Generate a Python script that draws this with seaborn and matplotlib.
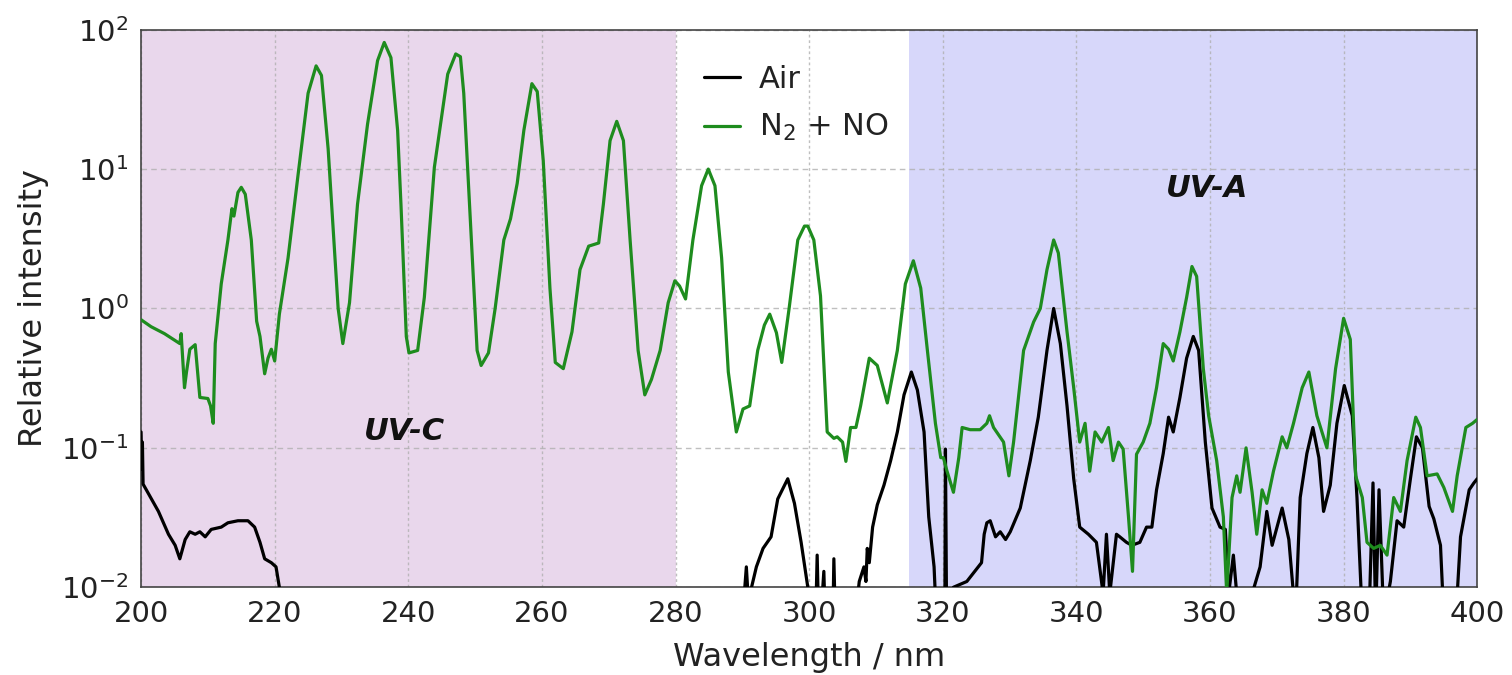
import numpy as np
import pandas as pd
import matplotlib
matplotlib.use("Agg")
import matplotlib.pyplot as plt
import seaborn as sns

# Emission spectra (wavelength in nm, relative intensity)
mix_nm = [
    200.0, 201.5, 203.5, 205.8, 206.0, 206.5, 206.8, 207.3, 208.1, 208.8, 210.0, 210.4,
    210.8, 211.1, 212.0, 213.0, 213.6, 213.9, 214.5, 215.0, 215.6, 216.5, 217.3, 217.8,
    218.5, 219.0, 219.5, 220.0, 220.7, 222.0, 223.5, 225.0, 226.2, 227.0, 228.0, 229.5,
    230.2, 231.2, 232.4, 233.9, 235.4, 236.4, 237.4, 238.4, 238.9, 239.7, 240.1, 241.4,
    242.4, 243.9, 245.9, 247.1, 247.8, 248.3, 249.3, 250.3, 250.9, 252.0, 253.0, 254.3,
    255.3, 256.3, 257.3, 258.5, 259.3, 260.2, 261.2, 262.0, 263.2, 264.5, 265.7, 267.0,
    268.5, 269.2, 270.2, 271.2, 272.2, 273.2, 274.4, 275.4, 276.4, 277.7, 278.9, 279.9,
    280.6, 281.5, 282.6, 283.9, 284.9, 285.9, 286.9, 287.9, 289.1, 290.1, 291.1, 292.3,
    293.3, 294.1, 295.1, 295.9, 297.0, 298.3, 299.3, 299.8, 300.7, 301.7, 302.7, 303.7,
    304.2, 305.0, 305.5, 306.2, 307.0, 307.7, 309.0, 310.2, 311.7, 313.2, 314.4, 315.6,
    316.7, 317.7, 318.9, 319.7, 320.1, 320.6, 321.6, 322.4, 322.9, 324.1, 325.6, 326.6,
    327.0, 327.6, 329.1, 329.9, 330.6, 332.1, 333.6, 334.6, 335.6, 336.6, 337.3, 338.6,
    339.6, 340.5, 341.3, 342.0, 342.8, 343.8, 344.8, 345.5, 346.3, 347.0, 347.8, 348.4,
    349.0, 350.0, 351.0, 352.0, 353.0, 353.8, 354.5, 355.5, 356.5, 357.3, 358.0, 359.0,
    359.8, 361.0, 362.0, 362.5, 363.3, 364.0, 364.5, 365.4, 366.3, 367.0, 367.8, 368.5,
    369.5, 370.8, 371.5, 372.5, 373.8, 374.8, 376.0, 377.5, 378.8, 380.0, 381.0, 381.8,
    382.8, 383.5, 384.5, 385.5, 386.5, 387.5, 388.5, 389.5, 390.8, 391.5, 392.5, 394.0,
    395.0, 396.3, 397.0, 398.3, 399.3, 400.0,
]
mix_val = [
    0.83, 0.74, 0.66, 0.56, 0.66, 0.27, 0.35, 0.51, 0.55, 0.23, 0.226, 0.20,
    0.15, 0.56, 1.5, 3.1, 5.2, 4.6, 6.8, 7.4, 6.6, 3.1, 0.81, 0.63,
    0.34, 0.44, 0.51, 0.42, 0.91, 2.3, 9.1, 35, 55, 47, 14, 1.0,
    0.56, 1.1, 5.6, 21, 60, 81, 63, 19, 5.6, 0.63, 0.48, 0.50,
    1.2, 10.3, 48, 67, 64, 35, 4.2, 0.5, 0.39, 0.48, 1.0, 3.1,
    4.4, 7.9, 19, 41, 36, 11.5, 1.4, 0.41, 0.37, 0.68, 1.9, 2.8,
    2.95, 5.6, 16, 22, 16, 3.1, 0.5, 0.24, 0.31, 0.5, 1.1, 1.58,
    1.45, 1.17, 3.1, 7.6, 10, 7.6, 2.3, 0.35, 0.13, 0.19, 0.20, 0.5,
    0.76, 0.91, 0.67, 0.41, 1.0, 3.1, 3.9, 3.9, 3.1, 1.23, 0.13, 0.117,
    0.12, 0.11, 0.08, 0.14, 0.14, 0.20, 0.44, 0.39, 0.21, 0.5, 1.5, 2.2,
    1.4, 0.5, 0.15, 0.085, 0.085, 0.069, 0.048, 0.085, 0.14, 0.135, 0.135, 0.15,
    0.17, 0.14, 0.11, 0.063, 0.11, 0.5, 0.8, 1.0, 1.9, 3.1, 2.5, 0.68,
    0.27, 0.11, 0.15, 0.068, 0.13, 0.11, 0.14, 0.081, 0.11, 0.098, 0.032, 0.013,
    0.09, 0.11, 0.15, 0.27, 0.56, 0.51, 0.42, 0.68, 1.2, 2.0, 1.7, 0.37,
    0.17, 0.081, 0.032, 0.009, 0.044, 0.063, 0.048, 0.10, 0.048, 0.024, 0.05, 0.04,
    0.068, 0.12, 0.10, 0.15, 0.27, 0.35, 0.17, 0.10, 0.37, 0.85, 0.6, 0.063,
    0.044, 0.021, 0.019, 0.020, 0.017, 0.044, 0.035, 0.081, 0.166, 0.14, 0.063, 0.065,
    0.052, 0.035, 0.063, 0.14, 0.15, 0.16,
]

air_nm = [
    200.0, 200.1, 200.2, 200.3, 201.1, 202.6, 204.1, 205.1, 205.8, 206.6, 207.3, 208.1,
    208.8, 209.6, 210.5, 212.0, 213.0, 214.5, 216.0, 217.0, 217.8, 218.5, 219.5, 220.2,
    220.7, 221.2, 289.8, 290.3, 290.6, 290.9, 292.1, 293.1, 294.3, 295.3, 296.8, 297.8,
    298.8, 299.8, 300.2, 300.9, 301.2, 301.5, 302.2, 302.5, 303.5, 303.7, 304.0, 306.5,
    307.5, 308.2, 308.5, 308.7, 309.0, 309.5, 310.2, 311.2, 312.2, 313.2, 314.2, 315.3,
    316.2, 317.2, 317.9, 318.7, 319.2, 320.3, 320.4, 320.6, 321.6, 323.6, 325.8, 326.2,
    326.6, 327.1, 327.9, 328.6, 329.4, 330.1, 331.6, 333.1, 334.3, 335.6, 336.6, 337.6,
    338.6, 339.6, 340.5, 341.8, 343.0, 344.0, 344.5, 345.0, 346.0, 346.5, 347.5, 348.3,
    349.5, 350.5, 351.3, 352.0, 353.0, 353.8, 354.5, 355.5, 356.5, 357.5, 358.3, 359.3,
    360.3, 361.5, 362.3, 362.8, 363.5, 364.0, 366.0, 367.5, 368.5, 369.3, 370.8, 371.8,
    372.8, 373.5, 374.5, 375.4, 376.3, 377.0, 378.0, 379.0, 380.1, 381.3, 382.0, 382.8,
    383.8, 384.4, 384.8, 385.3, 386.0, 387.0, 388.0, 389.0, 390.0, 390.9, 391.8, 392.8,
    393.5, 394.5, 395.0, 396.8, 397.5, 398.8, 399.5, 400.0,
]
air_val = [
    0.13, 0.07, 0.11, 0.055, 0.047, 0.035, 0.024, 0.020, 0.016, 0.022, 0.025, 0.024,
    0.025, 0.023, 0.026, 0.027, 0.029, 0.030, 0.030, 0.027, 0.021, 0.016, 0.015, 0.014,
    0.010, 0.004, 0.004, 0.009, 0.014, 0.008, 0.014, 0.019, 0.023, 0.043, 0.060, 0.040,
    0.021, 0.010, 0.004, 0.004, 0.017, 0.004, 0.013, 0.004, 0.004, 0.016, 0.004, 0.004,
    0.011, 0.014, 0.011, 0.019, 0.015, 0.027, 0.039, 0.054, 0.081, 0.13, 0.24, 0.35,
    0.26, 0.13, 0.032, 0.014, 0.004, 0.004, 0.098, 0.004, 0.010, 0.011, 0.015, 0.024,
    0.029, 0.030, 0.023, 0.025, 0.022, 0.025, 0.037, 0.081, 0.166, 0.5, 1.0, 0.56,
    0.20, 0.060, 0.027, 0.024, 0.021, 0.009, 0.024, 0.009, 0.024, 0.023, 0.021, 0.020,
    0.021, 0.027, 0.027, 0.050, 0.091, 0.166, 0.13, 0.23, 0.44, 0.63, 0.50, 0.11,
    0.037, 0.027, 0.026, 0.009, 0.017, 0.009, 0.008, 0.014, 0.035, 0.020, 0.037, 0.022,
    0.006, 0.044, 0.091, 0.14, 0.085, 0.035, 0.054, 0.15, 0.28, 0.17, 0.044, 0.006,
    0.006, 0.056, 0.006, 0.050, 0.006, 0.011, 0.030, 0.027, 0.060, 0.12, 0.10, 0.038,
    0.031, 0.020, 0.006, 0.006, 0.023, 0.050, 0.056, 0.060,
]

# Spectral bands
band_names = ["UV-C", "UV-A"]
band_lo = [200, 315]
band_hi = [280, 400]
band_colors = ["#e9d7ec", "#d7d7fa"]

x_ticks = [200, 220, 240, 260, 280, 300, 320, 340, 360, 380, 400]

sns.set_style("white")
plt.rcParams["font.family"] = ["DejaVu Sans"]
plt.rcParams["mathtext.fontset"] = "dejavusans"

fig = plt.figure(figsize=(15.12, 6.75), dpi=100)
ax = fig.add_axes([0.0933, 0.130, 0.8837, 0.826])

for lo, hi, c in zip(band_lo, band_hi, band_colors):
    ax.axvspan(lo, hi, color=c, zorder=0, lw=0)

air_df = pd.DataFrame({"nm": air_nm, "I": air_val})
mix_df = pd.DataFrame({"nm": mix_nm, "I": mix_val})

sns.lineplot(data=air_df, x="nm", y="I", ax=ax, color="black", lw=2.3,
             label="Air", estimator=None, sort=False, zorder=3)
sns.lineplot(data=mix_df, x="nm", y="I", ax=ax, color="#1e8c1e", lw=2.3,
             label=r"N$_2$ + NO", estimator=None, sort=False, zorder=4)

ax.set_yscale("log")
ax.set_xlim(200, 400)
ax.set_ylim(1e-2, 1e2)
ax.set_xticks(x_ticks)

ax.grid(True, which="major", axis="y", color="#b0b0b0", ls=(0, (4, 3)), lw=1.0, alpha=0.8, zorder=1)
ax.grid(True, which="major", axis="x", color="#b0b0b0", ls=(0, (2, 2)), lw=1.0, alpha=0.8, zorder=1)
ax.set_axisbelow(True)

ax.tick_params(axis="both", which="major", labelsize=21, direction="out", length=6, width=1.2,
               colors="#333333", pad=3)
ax.tick_params(axis="y", which="minor", direction="out", length=3.5, width=0.9, colors="#333333")
ax.tick_params(labelcolor="#222222")
for s in ax.spines.values():
    s.set_color("#444444")
    s.set_linewidth(1.2)

ax.set_xlabel("Wavelength / nm", fontsize=23, color="#222222", labelpad=10)
ax.set_ylabel("Relative intensity", fontsize=23, color="#222222", labelpad=9)

ax.text(239.5, 0.13, band_names[0], fontsize=22, fontweight="bold", fontstyle="italic",
        ha="center", va="center", color="#111111", zorder=5)
ax.text(359.5, 7.3, band_names[1], fontsize=22, fontweight="bold", fontstyle="italic",
        ha="center", va="center", color="#111111", zorder=5)

leg = ax.legend(loc="upper left", bbox_to_anchor=(0.405, 0.975), frameon=False,
                fontsize=22, handlelength=1.2, handletextpad=0.6, labelspacing=0.6,
                borderaxespad=0.3)
for t in leg.get_texts():
    t.set_color("#222222")

fig.savefig("out.png", dpi=100)
